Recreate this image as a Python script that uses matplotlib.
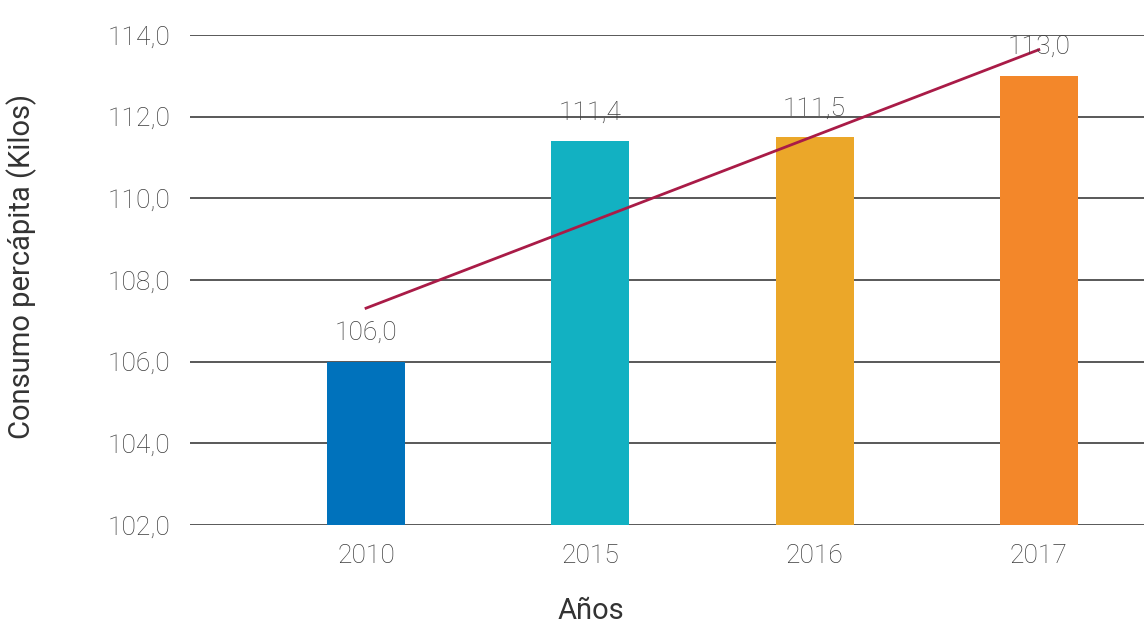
import numpy as np
import matplotlib.pyplot as plt

years = ["2010", "2015", "2016", "2017"]
consumo = [106.0, 111.4, 111.5, 113.0]
colores = ["#0072BC", "#12B1C2", "#EBA729", "#F3872A"]

plt.rcParams['font.family'] = ['Roboto', 'DejaVu Sans']
txt = '#3c3c3c'

fig = plt.figure(figsize=(11.44, 6.25), dpi=100)
ax = fig.add_axes([190 / 1144, 100 / 625, 954 / 1144, 490 / 625])

x = np.arange(len(years))
ax.bar(x, consumo, width=0.348, color=colores, zorder=3)

# linea de tendencia
m, b = np.polyfit(x, consumo, 1)
ax.plot(x, m * x + b, color='#A91B47', lw=2, zorder=4)

for xi, v in zip(x, consumo):
    ax.annotate(f"{v:.1f}".replace('.', ','), (xi, v), xytext=(0, 12),
                textcoords='offset points', ha='center', va='bottom',
                fontsize=19, fontweight='light', color=txt, zorder=5)

ax.set_ylim(102, 114)
ax.set_xlim(-0.785, 3.469)
ticks = np.arange(102, 115, 2)
ax.set_yticks(ticks)
ax.set_yticklabels([f"{t:.1f}".replace('.', ',') for t in ticks])
ax.set_xticks(x)
ax.set_xticklabels(years)
ax.yaxis.grid(True, color='#3c3c3c', lw=1.2, zorder=0)
ax.set_axisbelow(True)
for s in ax.spines.values():
    s.set_visible(False)
ax.tick_params(length=0, labelsize=19, labelcolor=txt, pad=14)
for lab in ax.get_xticklabels() + ax.get_yticklabels():
    lab.set_fontweight('light')

fig.text(22 / 1144, 1 - 266 / 625, "Consumo percápita (Kilos)", rotation=90,
         ha='center', va='center', fontsize=21, color='#333333')
fig.text(591 / 1144, 1 - 611 / 625, "Años", ha='center', va='center',
         fontsize=21, color='#333333')

fig.savefig("out.png", dpi=100)
